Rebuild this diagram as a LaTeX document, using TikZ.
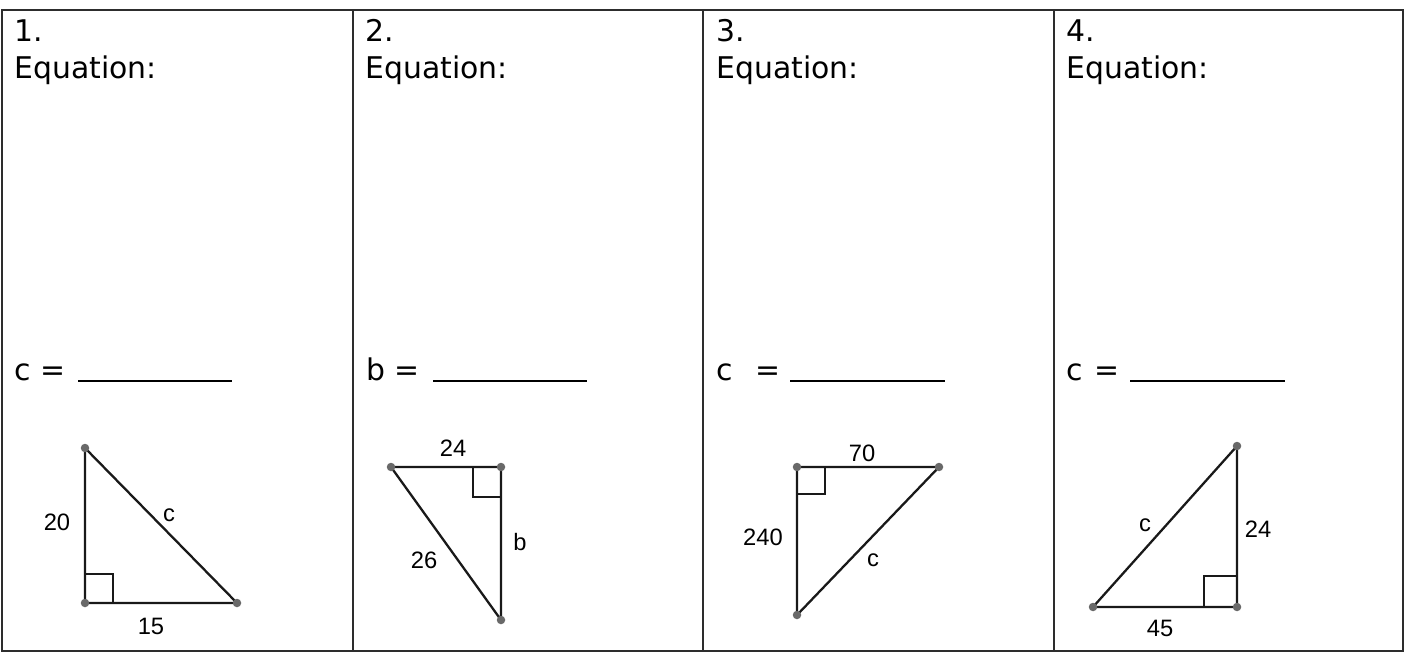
\documentclass[tikz,border=0pt]{standalone}
\usepackage{fontspec}
\setmainfont{DejaVu Sans}
\newfontfamily\labelfont{Liberation Sans}
\usetikzlibrary{calc, backgrounds}
\definecolor{sheetline}{RGB}{45,45,45}
\definecolor{trigline}{RGB}{25,25,25}
\definecolor{vertexgray}{RGB}{105,105,105}

\begin{document}
\begin{tikzpicture}[
    x=0.02cm, y=-0.02cm,
    % Styles for the worksheet look
    frame/.style={draw=sheetline, line width=1.1pt},
    heading/.style={anchor=base west, inner sep=0pt, font=\fontsize{17}{20}\selectfont},
    answerline/.style={draw=black, line width=0.9pt},
    vertex/.style={circle, fill=vertexgray, inner sep=0pt, minimum size=0.17cm},
    side/.style={draw=trigline, line width=1.3pt},
    rightangle/.style={draw=trigline, line width=0.9pt},
    sidelabel/.style={inner sep=0pt, font=\labelfont\fontsize{13.5}{15}\selectfont}
]
\useasboundingbox (0,0) rectangle (1405,655);

% ----------------------------------------------------
% Sheet frame and column dividers
% ----------------------------------------------------
\draw[frame] (2,10) rectangle (1403,651);
\draw[frame] (353,10) -- (353,651);
\draw[frame] (703,10) -- (703,651);
\draw[frame] (1054,10) -- (1054,651);

% Column headings
\node[heading] (num1) at (14,42) {1.};
\node[heading] (eq1) at (14,79) {Equation:};
\node[heading] (num2) at (365,42) {2.};
\node[heading] (eq2) at (365,79) {Equation:};
\node[heading] (num3) at (716,42) {3.};
\node[heading] (eq3) at (716,79) {Equation:};
\node[heading] (num4) at (1066,42) {4.};
\node[heading] (eq4) at (1066,79) {Equation:};

% Answer lines
\node[heading] (ans1) at (14,380) {c =};
\draw[answerline] (78,381) -- (232,381);
\node[heading] (ans2) at (366,380) {b =};
\draw[answerline] (433,381) -- (587,381);
\node[heading] (ans3) at (716,380) {c\hspace{0.75em}=};
\draw[answerline] (790,381) -- (945,381);
\node[heading] (ans4) at (1066,380) {c\hspace{0.38em}=};
\draw[answerline] (1130,381) -- (1285,381);

% ----------------------------------------------------
% Triangle 1
% ----------------------------------------------------
\node[vertex] (t1a) at (85,448) {};
\node[vertex] (t1b) at (85,603) {};
\node[vertex] (t1c) at (237,603) {};
\begin{scope}[on background layer]
\draw[side] (t1a.center) -- (t1b.center) -- (t1c.center) -- cycle;
\end{scope}
\draw[rightangle] (t1b.center) ++(28,0) -- ++(0,-29) -- ++(-28,0);
\node[sidelabel] (l1a) at (57,522) {20};
\node[sidelabel] (l1b) at (151,626) {15};
\node[sidelabel] (l1c) at (169,515) {c};

% ----------------------------------------------------
% Triangle 2
% ----------------------------------------------------
\node[vertex] (t2a) at (391,467) {};
\node[vertex] (t2b) at (501,467) {};
\node[vertex] (t2c) at (501,620) {};
\begin{scope}[on background layer]
\draw[side] (t2a.center) -- (t2b.center) -- (t2c.center) -- cycle;
\end{scope}
\draw[rightangle] (t2b.center) ++(-28,0) -- ++(0,30) -- ++(28,0);
\node[sidelabel] (l2a) at (453,448) {24};
\node[sidelabel] (l2b) at (520,542) {b};
\node[sidelabel] (l2c) at (424,560) {26};

% ----------------------------------------------------
% Triangle 3
% ----------------------------------------------------
\node[vertex] (t3a) at (797,467) {};
\node[vertex] (t3b) at (939,467) {};
\node[vertex] (t3c) at (797,615) {};
\begin{scope}[on background layer]
\draw[side] (t3a.center) -- (t3b.center) -- (t3c.center) -- cycle;
\end{scope}
\draw[rightangle] (t3a.center) ++(28,0) -- ++(0,27) -- ++(-28,0);
\node[sidelabel] (l3a) at (862,453) {70};
\node[sidelabel] (l3b) at (763,537) {240};
\node[sidelabel] (l3c) at (873,560) {c};

% ----------------------------------------------------
% Triangle 4
% ----------------------------------------------------
\node[vertex] (t4a) at (1237,446) {};
\node[vertex] (t4b) at (1237,607) {};
\node[vertex] (t4c) at (1093,607) {};
\begin{scope}[on background layer]
\draw[side] (t4a.center) -- (t4b.center) -- (t4c.center) -- cycle;
\end{scope}
\draw[rightangle] (t4b.center) ++(-33,0) -- ++(0,-31) -- ++(33,0);
\node[sidelabel] (l4a) at (1145,525) {c};
\node[sidelabel] (l4b) at (1258,529) {24};
\node[sidelabel] (l4c) at (1160,628) {45};

\end{tikzpicture}
\end{document}
